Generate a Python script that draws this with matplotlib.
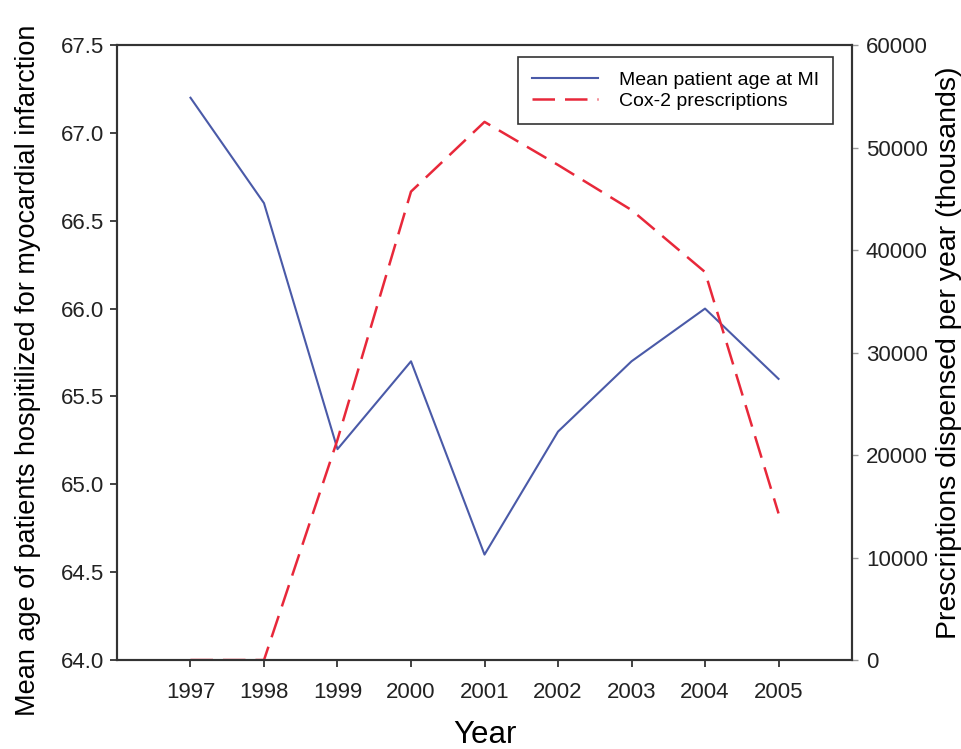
from matplotlib import pyplot as plt

# Data
years = [1997, 1998, 1999, 2000, 2001, 2002, 2003, 2004, 2005]
mean_age = [67.2, 66.6, 65.2, 65.7, 64.6, 65.3, 65.7, 66.0, 65.6]
cox2_prescriptions = [0, 0, 21500, 45700, 52500, 48300, 43900, 37850, 14300]

left_ticks = [64.0, 64.5, 65.0, 65.5, 66.0, 66.5, 67.0, 67.5]
right_ticks = [0, 10000, 20000, 30000, 40000, 50000, 60000]

plt.rcParams['font.family'] = ['Liberation Sans', 'DejaVu Sans']

fig = plt.figure(figsize=(9.62, 7.49), dpi=100)
ax = fig.add_axes([0.1216, 0.1188, 0.7641, 0.8211])
ax2 = ax.twinx()

line1, = ax.plot(years, mean_age, color='#4a5aa8', linewidth=1.5,
                 label='Mean patient age at MI')
line2, = ax2.plot(years, cox2_prescriptions, color='#e8283a', linewidth=1.8,
                  dashes=(9, 4), label='Cox-2 prescriptions')

ax.set_xlim(1996, 2006)
ax.set_ylim(64.0, 67.5)
ax2.set_ylim(0, 60000)
ax.set_xticks(years)
ax.set_yticks(left_ticks)
ax.set_yticklabels([f'{t:.1f}' for t in left_ticks])
ax2.set_yticks(right_ticks)

ax.tick_params(axis='y', direction='out', length=5, width=1.2,
               labelsize=16, colors='#222222', pad=4)
ax.tick_params(axis='x', direction='out', length=5, width=1.2,
               labelsize=16, colors='#222222', pad=11)
ax2.tick_params(axis='y', direction='out', length=4, width=1.0,
                labelsize=16, color='#999999', labelcolor='#222222', pad=6)

for spine in ax.spines.values():
    spine.set_linewidth(1.5)
    spine.set_color('#333333')
for spine in ax2.spines.values():
    spine.set_linewidth(1.5)
    spine.set_color('#333333')

ax.set_xlabel('Year', fontsize=22.5, labelpad=12)
ax.set_ylabel('Mean age of patients hospitilized for myocardial infarction',
              fontsize=19.5)
# the y label sits a bit below the axes centre in the original
ax.yaxis.set_label_coords(-0.103, 0.4715)
ax2.set_ylabel('Prescriptions dispensed per year (thousands)',
               fontsize=20.5, labelpad=6)

leg = ax.legend(handles=[line1, line2], loc='upper right',
                bbox_to_anchor=(0.974, 0.98), borderaxespad=0,
                fontsize=14, fancybox=False,
                framealpha=1, edgecolor='#333333', handlelength=3.4,
                handletextpad=1.1, borderpad=0.7, labelspacing=0.2)
leg.get_frame().set_linewidth(1.2)

fig.savefig('out.png', dpi=100)
